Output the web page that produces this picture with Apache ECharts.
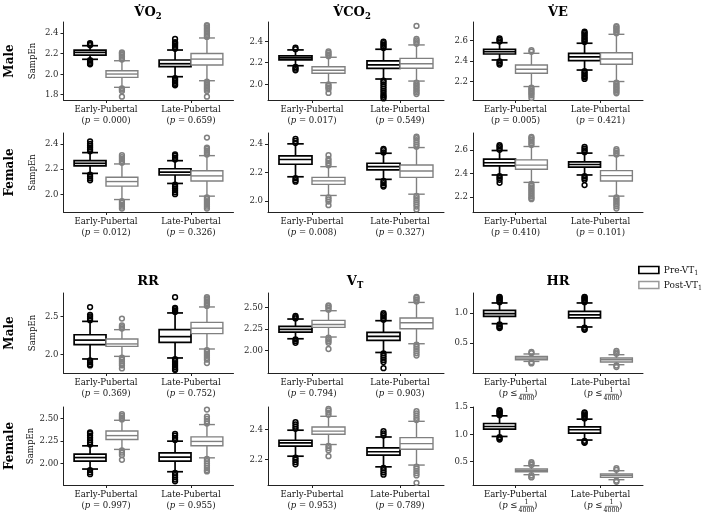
<!DOCTYPE html>
<html><head><meta charset="utf-8">
<script src="https://cdn.jsdelivr.net/npm/echarts@6/dist/echarts.min.js"></script>
<style>html,body{margin:0;padding:0;background:#fff}#c{width:709px;height:512px}</style>
</head><body><div id="c"></div><script>
// ---------- data ----------
const groups = ['Early-Pubertal', 'Late-Pubertal'];
const seriesNames = ['Pre-VT1', 'Post-VT1'];
const rowLabels = ['Male', 'Female', 'Male', 'Female'];
const colTitles = ['{m|V\u0307O}{s|2}', '{m|V\u0307CO}{s|2}', '{m|V\u0307E}', '{m|RR}', '{m|V}{s|T}', '{m|HR}'];

// box stats per group: [lower whisker, Q1, median, Q3, upper whisker]
const VO2_M_pre  = [[2.143, 2.184, 2.21, 2.233, 2.275], [1.974, 2.071, 2.10, 2.136, 2.233]];
const VO2_M_post = [[1.871, 1.968, 2.0, 2.032, 2.129], [1.935, 2.087, 2.145, 2.20, 2.35]];
const VO2_M_pre_out  = [[2.28,2.29,2.30,2.135,2.12,2.105,2.095],[2.245,2.26,2.275,2.29,2.30,2.31,2.34,1.96,1.945,1.93,1.915,1.90,1.89]];
const VO2_M_post_out = [[2.14,2.155,2.17,2.185,2.20,2.21,1.86,1.85,1.835,1.78],[2.36,2.375,2.39,2.405,2.42,2.435,2.45,2.465,2.475,1.925,1.91,1.895,1.88,1.865,1.85,1.835,1.78]];
const VO2_M_p = ['0.000', '0.659'];
const VO2_M_yticks = ['1.8', '2.0', '2.2', '2.4'];
const VO2_M_yrange = [1.748, 2.505];

const VCO2_M_pre  = [[2.172,2.225,2.245,2.262,2.318],[2.049,2.148,2.18,2.216,2.324]];
const VCO2_M_post = [[2.015,2.102,2.13,2.163,2.25],[2.03,2.148,2.19,2.24,2.364]];
const VCO2_M_pre_out  = [[2.325,2.34,2.16,2.145,2.13],[2.335,2.35,2.365,2.38,2.395,2.035,2.02,2.0,1.98,1.96,1.94,1.92,1.90,1.885,1.87]];
const VCO2_M_post_out = [[2.26,2.275,2.29,2.305,2.0,1.985,1.97,1.955,1.92],[2.375,2.39,2.405,2.42,2.54,2.015,2.0,1.985,1.97,1.955,1.94,1.925,1.91]];
const VCO2_M_p = ['0.017', '0.549'];
const VCO2_M_yticks = ['2.0', '2.2', '2.4'];
const VCO2_M_yrange = [1.855, 2.576];

const VE_M_pre  = [[2.41,2.468,2.49,2.514,2.578],[2.312,2.403,2.44,2.475,2.573]];
const VE_M_post = [[2.151,2.28,2.32,2.361,2.475],[2.20,2.368,2.42,2.481,2.66]];
const VE_M_pre_out  = [[2.59,2.605,2.62,2.395,2.38,2.365],[2.585,2.60,2.615,2.63,2.645,2.66,2.675,2.685,2.30,2.285,2.27,2.255,2.24,2.225]];
const VE_M_post_out = [[2.49,2.505,2.14,2.125,2.11,2.095,2.08,2.065,2.04],[2.67,2.685,2.70,2.715,2.73,2.74,2.19,2.175,2.16,2.145,2.13,2.115,2.10,2.085]];
const VE_M_p = ['0.005', '0.421'];
const VE_M_yticks = ['2.2', '2.4', '2.6'];
const VE_M_yrange = [2.02, 2.78];

const VO2_F_pre  = [[2.165,2.224,2.245,2.266,2.33],[2.085,2.152,2.175,2.202,2.266]];
const VO2_F_post = [[1.957,2.064,2.10,2.134,2.24],[1.984,2.104,2.145,2.186,2.306]];
const VO2_F_pre_out  = [[2.34,2.355,2.37,2.385,2.40,2.42,2.155,2.14,2.125,2.11],[2.275,2.29,2.305,2.315,2.075,2.06,2.045,2.03,2.015,2.0]];
const VO2_F_post_out = [[2.25,2.265,2.28,2.295,2.31,1.945,1.93,1.915,1.90,1.885],[2.315,2.33,2.345,2.36,2.37,2.45,1.975,1.96,1.945,1.93,1.915,1.90,1.885]];
const VO2_F_p = ['0.012', '0.326'];
const VO2_F_yticks = ['2.0', '2.2', '2.4'];
const VO2_F_yrange = [1.858, 2.486];

const VCO2_F_pre  = [[2.169,2.257,2.29,2.315,2.40],[2.151,2.217,2.24,2.264,2.334]];
const VCO2_F_post = [[2.038,2.116,2.14,2.165,2.24],[2.047,2.165,2.21,2.252,2.374]];
const VCO2_F_pre_out  = [[2.405,2.42,2.435,2.16,2.145,2.135],[2.34,2.355,2.365,2.14,2.125,2.11,2.10]];
const VCO2_F_post_out = [[2.25,2.265,2.28,2.295,2.32,2.025,2.01,1.995,1.97],[2.38,2.395,2.41,2.425,2.44,2.45,2.035,2.02,2.005,1.99,1.975,1.96,1.94]];
const VCO2_F_p = ['0.008', '0.327'];
const VCO2_F_yticks = ['2.0', '2.2', '2.4'];
const VCO2_F_yrange = [1.922, 2.476];

const VE_F_pre  = [[2.386,2.463,2.49,2.52,2.594],[2.386,2.452,2.475,2.497,2.572]];
const VE_F_post = [[2.323,2.435,2.47,2.514,2.628],[2.206,2.335,2.38,2.423,2.551]];
const VE_F_pre_out  = [[2.60,2.615,2.63,2.64,2.375,2.36,2.345,2.32],[2.58,2.595,2.61,2.625,2.375,2.36,2.345,2.30]];
const VE_F_post_out = [[2.64,2.655,2.67,2.685,2.70,2.71,2.31,2.295,2.28,2.265,2.25,2.235,2.22,2.205,2.19,2.18],[2.56,2.575,2.59,2.605,2.195,2.18,2.165,2.15,2.135,2.12,2.10]];
const VE_F_p = ['0.410', '0.101'];
const VE_F_yticks = ['2.2', '2.4', '2.6'];
const VE_F_yrange = [2.071, 2.743];

const RR_M_pre  = [[1.944,2.13,2.19,2.26,2.434],[1.957,2.16,2.235,2.326,2.544]];
const RR_M_post = [[1.978,2.108,2.14,2.205,2.326],[2.074,2.274,2.345,2.421,2.622]];
const RR_M_pre_out  = [[2.45,2.475,2.50,2.52,2.62,1.925,1.90,1.875,1.86],[2.555,2.575,2.595,2.61,2.75,1.94,1.915,1.89,1.865,1.84,1.815,1.80]];
const RR_M_post_out = [[2.34,2.36,2.38,2.47,1.96,1.935,1.91,1.885,1.86,1.82],[2.635,2.655,2.675,2.695,2.715,2.735,2.75,2.06,2.035,2.01,1.985,1.96,1.935,1.89]];
const RR_M_p = ['0.369', '0.752'];
const RR_M_yticks = ['2.0', '2.5'];
const RR_M_yrange = [1.761, 2.804];

const VT_M_pre  = [[2.137,2.214,2.245,2.278,2.363],[1.98,2.118,2.165,2.21,2.344]];
const VT_M_post = [[2.157,2.267,2.30,2.347,2.458],[2.08,2.252,2.32,2.374,2.553]];
const VT_M_pre_out  = [[2.37,2.385,2.40,2.13,2.11,2.09],[2.355,2.375,2.395,2.415,2.43,1.97,1.945,1.92,1.895,1.87,1.80]];
const VT_M_post_out = [[2.47,2.49,2.51,2.52,2.15,2.13,2.11,2.09,2.02],[2.565,2.585,2.605,2.615,2.07,2.045,2.02,1.995,1.97,1.945]];
const VT_M_p = ['0.794', '0.903'];
const VT_M_yticks = ['2.00', '2.25', '2.50'];
const VT_M_yrange = [1.745, 2.661];

const HR_M_pre  = [[0.822,0.943,0.99,1.043,1.167],[0.767,0.917,0.97,1.027,1.167]];
const HR_M_post = [[0.193,0.222,0.25,0.277,0.317],[0.138,0.183,0.22,0.25,0.305]];
const HR_M_pre_out  = [[1.18,1.20,1.22,1.24,1.26,1.27,0.81,0.785,0.76,0.75],[1.18,1.20,1.22,1.24,1.26,1.27,0.755,0.735,0.72]];
const HR_M_post_out = [[0.33,0.35,0.18,0.16],[0.32,0.345,0.37,0.125,0.10]];
const HR_M_p = null; // p <= 1/4000
const HR_M_yticks = ['0.5', '1.0'];
const HR_M_yrange = [0.0, 1.333];

const RR_F_pre  = [[1.937,2.026,2.065,2.103,2.196],[1.907,2.026,2.07,2.118,2.248]];
const RR_F_post = [[2.156,2.267,2.31,2.362,2.481],[2.062,2.196,2.245,2.296,2.433]];
const RR_F_pre_out  = [[2.21,2.235,2.26,2.285,2.31,2.335,2.345,1.925,1.90,1.88],[2.26,2.285,2.31,2.33,1.895,1.87,1.845,1.82,1.80]];
const RR_F_post_out = [[2.49,2.51,2.53,2.55,2.145,2.12,2.095,2.04],[2.445,2.47,2.495,2.52,2.60,2.05,2.025,2.0,1.975,1.95,1.925,1.91]];
const RR_F_p = ['0.997', '0.955'];
const RR_F_yticks = ['2.00', '2.25', '2.50'];
const RR_F_yrange = [1.759, 2.629];

const VT_F_pre  = [[2.22,2.288,2.31,2.328,2.396],[2.148,2.227,2.25,2.276,2.35]];
const VT_F_post = [[2.299,2.369,2.39,2.418,2.49],[2.16,2.267,2.305,2.346,2.456]];
const VT_F_pre_out  = [[2.405,2.42,2.435,2.45,2.21,2.195,2.18,2.165],[2.36,2.375,2.39,2.14,2.125,2.11,2.095]];
const VT_F_post_out = [[2.50,2.515,2.53,2.54,2.29,2.275,2.26,2.22],[2.465,2.48,2.495,2.51,2.525,2.15,2.135,2.12,2.105,2.09,2.04]];
const VT_F_p = ['0.953', '0.789'];
const VT_F_yticks = ['2.2', '2.4'];
const VT_F_yrange = [2.025, 2.553];

const HR_F_pre  = [[0.956,1.092,1.14,1.195,1.337],[0.89,1.018,1.08,1.134,1.276]];
const HR_F_post = [[0.25,0.306,0.33,0.355,0.416],[0.158,0.2,0.235,0.263,0.324]];
const HR_F_pre_out  = [[1.35,1.375,1.40,1.425,1.44,0.945,0.92,0.90],[1.29,1.315,1.34,1.365,1.39,1.40,0.875,0.85,0.84]];
const HR_F_post_out = [[0.43,0.46,0.48,0.24,0.21,0.20],[0.34,0.37,0.14,0.12]];
const HR_F_p = null;
const HR_F_yticks = ['0.5', '1.0', '1.5'];
const HR_F_yrange = [0.06, 1.50];

// ---------- layout / style ----------
const FONT = "'DejaVu Serif Condensed', 'DejaVu Serif', serif";
const TFONT = "'DejaVu Serif', serif";
const PRE_COLOR = '#000000', POST_COLOR = '#808080';
const colLeft = [63.5, 268, 473], colWidth = [170, 176, 170];
const rowTop = [22, 133, 293, 407], rowHeight = [78, 79, 80, 78];
const titlePos = [[148, 13], [352, 13], [558, 13], [148, 282], [355, 282], [558, 282]];

const panels = [
  {box:[VO2_M_pre, VO2_M_post], out:[VO2_M_pre_out, VO2_M_post_out], p:VO2_M_p, yt:VO2_M_yticks, yr:VO2_M_yrange},
  {box:[VCO2_M_pre, VCO2_M_post], out:[VCO2_M_pre_out, VCO2_M_post_out], p:VCO2_M_p, yt:VCO2_M_yticks, yr:VCO2_M_yrange},
  {box:[VE_M_pre, VE_M_post], out:[VE_M_pre_out, VE_M_post_out], p:VE_M_p, yt:VE_M_yticks, yr:VE_M_yrange},
  {box:[VO2_F_pre, VO2_F_post], out:[VO2_F_pre_out, VO2_F_post_out], p:VO2_F_p, yt:VO2_F_yticks, yr:VO2_F_yrange},
  {box:[VCO2_F_pre, VCO2_F_post], out:[VCO2_F_pre_out, VCO2_F_post_out], p:VCO2_F_p, yt:VCO2_F_yticks, yr:VCO2_F_yrange},
  {box:[VE_F_pre, VE_F_post], out:[VE_F_pre_out, VE_F_post_out], p:VE_F_p, yt:VE_F_yticks, yr:VE_F_yrange},
  {box:[RR_M_pre, RR_M_post], out:[RR_M_pre_out, RR_M_post_out], p:RR_M_p, yt:RR_M_yticks, yr:RR_M_yrange},
  {box:[VT_M_pre, VT_M_post], out:[VT_M_pre_out, VT_M_post_out], p:VT_M_p, yt:VT_M_yticks, yr:VT_M_yrange},
  {box:[HR_M_pre, HR_M_post], out:[HR_M_pre_out, HR_M_post_out], p:HR_M_p, yt:HR_M_yticks, yr:HR_M_yrange},
  {box:[RR_F_pre, RR_F_post], out:[RR_F_pre_out, RR_F_post_out], p:RR_F_p, yt:RR_F_yticks, yr:RR_F_yrange},
  {box:[VT_F_pre, VT_F_post], out:[VT_F_pre_out, VT_F_post_out], p:VT_F_p, yt:VT_F_yticks, yr:VT_F_yrange},
  {box:[HR_F_pre, HR_F_post], out:[HR_F_pre_out, HR_F_post_out], p:HR_F_p, yt:HR_F_yticks, yr:HR_F_yrange}
];

function boxRenderer(side, color, lw) {
  return function (params, api) {
    const g = api.value(0);
    const w = api.size([1, 0])[0] * 0.375;
    const cx = api.coord([g, api.value(3)])[0] + side * w / 2;
    const Y = i => api.coord([g, api.value(i)])[1];
    const yLo = Y(1), yQ1 = Y(2), yMed = Y(3), yQ3 = Y(4), yHi = Y(5);
    const ls = () => ({stroke: color, lineWidth: lw});
    return {type: 'group', children: [
      {type: 'line', shape: {x1: cx, y1: yHi, x2: cx, y2: yQ3}, style: ls()},
      {type: 'line', shape: {x1: cx, y1: yQ1, x2: cx, y2: yLo}, style: ls()},
      {type: 'line', shape: {x1: cx - w / 4, y1: yHi, x2: cx + w / 4, y2: yHi}, style: ls()},
      {type: 'line', shape: {x1: cx - w / 4, y1: yLo, x2: cx + w / 4, y2: yLo}, style: ls()},
      {type: 'rect', shape: {x: cx - w / 2, y: yQ3, width: w, height: yQ1 - yQ3}, style: {fill: '#fff', stroke: color, lineWidth: lw}},
      {type: 'line', shape: {x1: cx - w / 2, y1: yMed, x2: cx + w / 2, y2: yMed}, style: ls()}
    ]};
  };
}
function outRenderer(side, color) {
  return function (params, api) {
    const g = api.value(0);
    const w = api.size([1, 0])[0] * 0.375;
    const pt = api.coord([g, api.value(1)]);
    return {type: 'circle', shape: {cx: pt[0] + side * w / 2, cy: pt[1], r: 2.4},
            style: {fill: 'none', stroke: color, lineWidth: 1.5}};
  };
}

const grids = [], xAxes = [], yAxes = [], series = [];
panels.forEach((pd, k) => {
  const c = k % 3;
  const rowIdx = Math.floor(k / 3);
  grids.push({left: colLeft[c], top: rowTop[rowIdx], width: colWidth[c], height: rowHeight[rowIdx],
              containLabel: false, outerBoundsMode: 'none'});
  const nums = pd.yt.map(Number);
  yAxes.push({
    gridIndex: k, type: 'value', min: pd.yr[0], max: pd.yr[1],
    axisLine: {show: true, lineStyle: {color: '#222', width: 1}},
    axisTick: {show: true, length: 3, customValues: nums, lineStyle: {color: '#222', width: 1}},
    axisLabel: {customValues: nums, margin: 5, color: '#2b2b2b', fontFamily: FONT, fontSize: 9.5,
                formatter: v => { const i = nums.indexOf(v); return i >= 0 ? pd.yt[i] : String(v); }},
    splitLine: {show: false},
    name: c === 0 ? 'SampEn' : '', nameLocation: 'middle', nameGap: 26, nameRotate: 90,
    nameTextStyle: {fontFamily: FONT, fontSize: 9.5, color: '#111'}
  });
  xAxes.push({
    gridIndex: k, type: 'category', data: groups,
    axisLine: {show: true, onZero: false, lineStyle: {color: '#222', width: 1}},
    axisTick: {show: true, alignWithLabel: true, length: 3, lineStyle: {color: '#222', width: 1}},
    axisLabel: {margin: 4.5, color: '#111', fontFamily: FONT, fontSize: 9.5, lineHeight: 11, interval: 0,
      formatter: (val, idx) => pd.p ? val + '\n({i|p} = ' + pd.p[idx] + ')' : val + '\n{ph| }',
      rich: {i: {fontStyle: 'italic', fontFamily: FONT, fontSize: 9.5, lineHeight: 11, color: '#111'},
             ph: {fontFamily: FONT, fontSize: 9.5, lineHeight: 11}}},
    splitLine: {show: false}
  });
  [0, 1].forEach(s => {
    const side = s === 0 ? -1 : 1;
    const color = s === 0 ? PRE_COLOR : POST_COLOR;
    series.push({
      type: 'custom', name: seriesNames[s], xAxisIndex: k, yAxisIndex: k, silent: true,
      renderItem: boxRenderer(side, color, s === 0 ? 1.7 : 1.4),
      encode: {x: 0, y: [1, 2, 3, 4, 5]},
      data: pd.box[s].map((b, g) => [g].concat(b))
    });
  });
  [0, 1].forEach(s => {
    const side = s === 0 ? -1 : 1;
    const color = s === 0 ? PRE_COLOR : POST_COLOR;
    const data = [];
    pd.out[s].forEach((vals, g) => vals.forEach(v => data.push([g, v])));
    series.push({
      type: 'custom', name: seriesNames[s], xAxisIndex: k, yAxisIndex: k, silent: true,
      renderItem: outRenderer(side, color), encode: {x: 0, y: 1}, data: data
    });
  });
});

const chart = echarts.init(document.getElementById('c'), null, {renderer: 'canvas', width: 709, height: 512});
chart.setOption({
  animation: false,
  backgroundColor: '#fff',
  grid: grids, xAxis: xAxes, yAxis: yAxes, series: series,
  legend: {
    orient: 'vertical', left: 633, top: 258, itemWidth: 20, itemHeight: 7, itemGap: 1,
    data: [
      {name: 'Pre-VT1', icon: 'rect', itemStyle: {color: '#fff', borderColor: PRE_COLOR, borderWidth: 1.7}},
      {name: 'Post-VT1', icon: 'rect', itemStyle: {color: '#fff', borderColor: '#999', borderWidth: 1.5}}
    ],
    formatter: n => n.replace(/1$/, '') + '{s|1}',
    textStyle: {fontFamily: FONT, fontSize: 10, lineHeight: 14, color: '#111',
                rich: {s: {fontFamily: FONT, fontSize: 7, lineHeight: 7, verticalAlign: 'bottom', color: '#111'}}},
    selectedMode: false
  }
});

// ---------- text overlays ----------
const gfx = [];
colTitles.forEach((t, i) => {
  gfx.push({type: 'text', x: titlePos[i][0], y: titlePos[i][1], silent: true,
    style: {text: t, align: 'center', verticalAlign: 'middle', textAlign: 'center', textVerticalAlign: 'middle',
      rich: {m: {fontFamily: TFONT, fontWeight: 'bold', fontSize: 13, lineHeight: 16, fill: '#000', color: '#000'},
             s: {fontFamily: TFONT, fontWeight: 'bold', fontSize: 8.5, lineHeight: 8.5, verticalAlign: 'bottom', fill: '#000', color: '#000'}}}});
});
rowLabels.forEach((t, r) => {
  gfx.push({type: 'text', x: 10, y: rowTop[r] + rowHeight[r] / 2, rotation: Math.PI / 2, silent: true,
    style: {text: t, font: 'bold 12px ' + TFONT, fill: '#000', align: 'center', verticalAlign: 'middle',
            textAlign: 'center', textVerticalAlign: 'middle'}});
});
// HR panels: (p <= 1/4000) with stacked fraction
panels.forEach((pd, k) => {
  if (pd.p) return;
  const yBase = chart.convertToPixel({yAxisIndex: k}, pd.yr[0]) + 21;
  groups.forEach((gName) => {
    const cx = chart.convertToPixel({xAxisIndex: k}, gName);
    gfx.push({type: 'text', x: cx + 2, y: yBase, silent: true,
      style: {text: '({i|p} \u2264', align: 'right', verticalAlign: 'middle', textAlign: 'right', textVerticalAlign: 'middle',
              font: '9.5px ' + FONT, fill: '#111',
              rich: {i: {fontStyle: 'italic', fontFamily: FONT, fontSize: 9.5, fill: '#111', color: '#111'}}}});
    gfx.push({type: 'text', x: cx + 11, y: yBase - 3.8, silent: true,
      style: {text: '1', font: '7px ' + FONT, fill: '#111', align: 'center', verticalAlign: 'middle', textAlign: 'center', textVerticalAlign: 'middle'}});
    gfx.push({type: 'line', silent: true, shape: {x1: cx + 4.5, y1: yBase + 0.3, x2: cx + 17.5, y2: yBase + 0.3},
      style: {stroke: '#222', lineWidth: 0.6}});
    gfx.push({type: 'text', x: cx + 11, y: yBase + 4.4, silent: true,
      style: {text: '4000', font: '7px ' + FONT, fill: '#111', align: 'center', verticalAlign: 'middle', textAlign: 'center', textVerticalAlign: 'middle'}});
    gfx.push({type: 'text', x: cx + 18.5, y: yBase, silent: true,
      style: {text: ')', font: '9.5px ' + FONT, fill: '#111', align: 'left', verticalAlign: 'middle', textAlign: 'left', textVerticalAlign: 'middle'}});
  });
});
chart.setOption({graphic: {elements: gfx}});
</script></body></html>
